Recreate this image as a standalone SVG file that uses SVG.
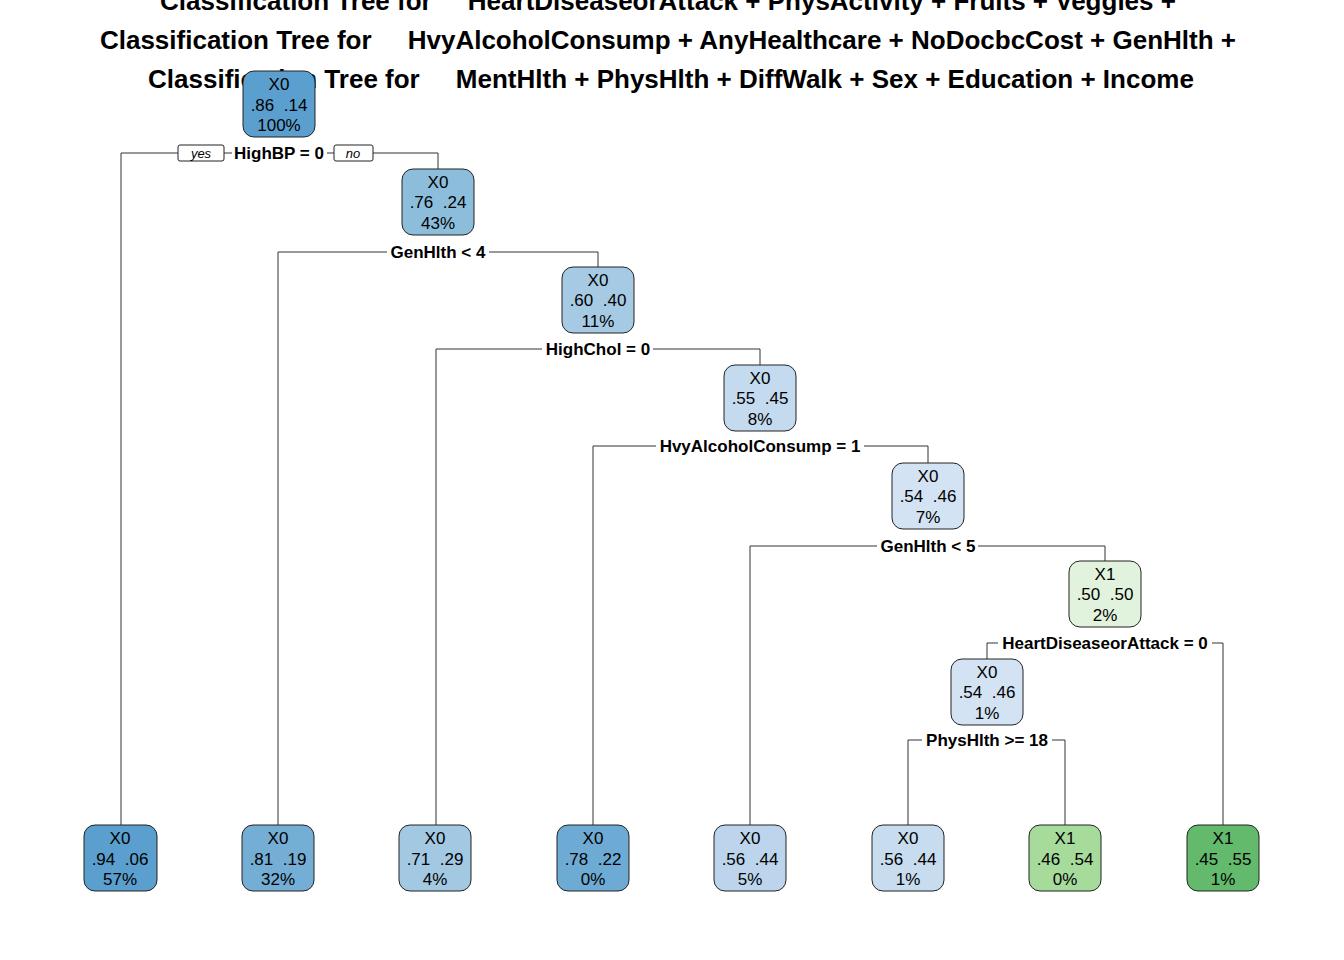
<svg xmlns="http://www.w3.org/2000/svg" width="1344" height="960" viewBox="0 0 1344 960">
<style>
.title{font-family:"Liberation Sans",Arial,sans-serif;font-size:26px;font-weight:bold;fill:#000;white-space:pre;text-anchor:middle}
.box{stroke:#222;stroke-width:1}
.nt{font-family:"Liberation Sans",Arial,sans-serif;font-size:17px;fill:#000;text-anchor:middle;white-space:pre}
.split{font-family:"Liberation Sans",Arial,sans-serif;font-size:17px;font-weight:bold;fill:#000;text-anchor:middle}
.yn{font-family:"Liberation Sans",Arial,sans-serif;font-size:13px;font-style:italic;fill:#000;text-anchor:middle}
.conn{fill:none;stroke:#333;stroke-width:1}
</style>
<rect width="1344" height="960" fill="#fff"/>
<g id="title">
<text class="title" x="668" y="10">Classification Tree for     HeartDiseaseorAttack + PhysActivity + Fruits + Veggies +</text>
<text class="title" x="668" y="49">Classification Tree for     HvyAlcoholConsump + AnyHealthcare + NoDocbcCost + GenHlth +</text>
<text class="title" x="671" y="88">Classification Tree for     MentHlth + PhysHlth + DiffWalk + Sex + Education + Income</text>
</g>
<g id="connectors">
<path class="conn" d="M121 825 V153 H178 M224 153 H232 M327 153 H334 M373 153 H438 V169"/>
<rect x="178" y="145" width="46" height="16" rx="2" fill="#fff" stroke="#222" stroke-width="1"/>
<text class="yn" x="201" y="157.5">yes</text>
<rect x="334" y="145" width="39" height="16" rx="2" fill="#fff" stroke="#222" stroke-width="1"/>
<text class="yn" x="353" y="157.5">no</text>
<text class="split" x="279" y="159">HighBP = 0</text>

<path class="conn" d="M278 825 V252 H387 M489 252 H598 V267"/>
<text class="split" x="438" y="258">GenHlth &lt; 4</text>

<path class="conn" d="M436 825 V349 H542 M653 349 H760 V365"/>
<text class="split" x="598" y="355">HighChol = 0</text>

<path class="conn" d="M593 825 V446 H656 M864 446 H928 V463"/>
<text class="split" x="760" y="452">HvyAlcoholConsump = 1</text>

<path class="conn" d="M750 825 V546 H877 M978 546 H1105 V561"/>
<text class="split" x="928" y="552">GenHlth &lt; 5</text>

<path class="conn" d="M987 659 V643 H998 M1212 643 H1223 V825"/>
<text class="split" x="1105" y="649">HeartDiseaseorAttack = 0</text>

<path class="conn" d="M908 825 V740 H922 M1052 740 H1065 V825"/>
<text class="split" x="987" y="746">PhysHlth &gt;= 18</text>
</g>

<g id="n1"><rect class="box" x="243" y="71" width="72" height="66" rx="11" fill="#5A9FCE"/>
<text class="nt" x="279" y="90">X0</text><text class="nt" x="279" y="111">.86  .14</text><text class="nt" x="279" y="131">100%</text></g>
<g id="n2"><rect class="box" x="402" y="169" width="72" height="66" rx="11" fill="#8CBEDC"/>
<text class="nt" x="438" y="188">X0</text><text class="nt" x="438" y="208">.76  .24</text><text class="nt" x="438" y="229">43%</text></g>
<g id="n3"><rect class="box" x="562" y="267" width="72" height="66" rx="11" fill="#A6CAE3"/>
<text class="nt" x="598" y="286">X0</text><text class="nt" x="598" y="306">.60  .40</text><text class="nt" x="598" y="327">11%</text></g>
<g id="n4"><rect class="box" x="724" y="365" width="72" height="66" rx="11" fill="#C4DAEE"/>
<text class="nt" x="760" y="384">X0</text><text class="nt" x="760" y="404">.55  .45</text><text class="nt" x="760" y="425">8%</text></g>
<g id="n5"><rect class="box" x="892" y="463" width="72" height="66" rx="11" fill="#D3E3F3"/>
<text class="nt" x="928" y="482">X0</text><text class="nt" x="928" y="502">.54  .46</text><text class="nt" x="928" y="523">7%</text></g>
<g id="n6"><rect class="box" x="1069" y="561" width="72" height="66" rx="11" fill="#E1F3DC"/>
<text class="nt" x="1105" y="580">X1</text><text class="nt" x="1105" y="600">.50  .50</text><text class="nt" x="1105" y="621">2%</text></g>
<g id="n7"><rect class="box" x="951" y="659" width="72" height="66" rx="11" fill="#D3E3F3"/>
<text class="nt" x="987" y="678">X0</text><text class="nt" x="987" y="698">.54  .46</text><text class="nt" x="987" y="719">1%</text></g>

<g id="leaf1"><rect class="box" x="84" y="825" width="73" height="66" rx="11" fill="#5A9FCE"/>
<text class="nt" x="120" y="844">X0</text><text class="nt" x="120" y="865">.94  .06</text><text class="nt" x="120" y="885">57%</text></g>
<g id="leaf2"><rect class="box" x="242" y="825" width="72" height="66" rx="11" fill="#74AED5"/>
<text class="nt" x="278" y="844">X0</text><text class="nt" x="278" y="865">.81  .19</text><text class="nt" x="278" y="885">32%</text></g>
<g id="leaf3"><rect class="box" x="399" y="825" width="72" height="66" rx="11" fill="#A3C8E2"/>
<text class="nt" x="435" y="844">X0</text><text class="nt" x="435" y="865">.71  .29</text><text class="nt" x="435" y="885">4%</text></g>
<g id="leaf4"><rect class="box" x="557" y="825" width="72" height="66" rx="11" fill="#6EABD4"/>
<text class="nt" x="593" y="844">X0</text><text class="nt" x="593" y="865">.78  .22</text><text class="nt" x="593" y="885">0%</text></g>
<g id="leaf5"><rect class="box" x="714" y="825" width="72" height="66" rx="11" fill="#BCD5EC"/>
<text class="nt" x="750" y="844">X0</text><text class="nt" x="750" y="865">.56  .44</text><text class="nt" x="750" y="885">5%</text></g>
<g id="leaf6"><rect class="box" x="872" y="825" width="72" height="66" rx="11" fill="#C7DCEF"/>
<text class="nt" x="908" y="844">X0</text><text class="nt" x="908" y="865">.56  .44</text><text class="nt" x="908" y="885">1%</text></g>
<g id="leaf7"><rect class="box" x="1029" y="825" width="72" height="66" rx="11" fill="#A6DB9C"/>
<text class="nt" x="1065" y="844">X1</text><text class="nt" x="1065" y="865">.46  .54</text><text class="nt" x="1065" y="885">0%</text></g>
<g id="leaf8"><rect class="box" x="1187" y="825" width="72" height="66" rx="11" fill="#63BA6C"/>
<text class="nt" x="1223" y="844">X1</text><text class="nt" x="1223" y="865">.45  .55</text><text class="nt" x="1223" y="885">1%</text></g>
</svg>
